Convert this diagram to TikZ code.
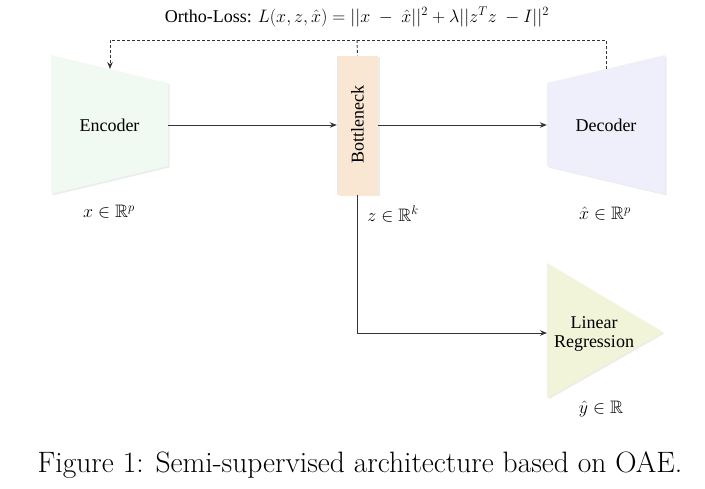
\documentclass[tikz,border=0pt]{standalone}
\usepackage{fix-cm}
\usepackage{amssymb}
\usepackage{fontspec}
\newfontfamily\diafont{Liberation Serif}
\usetikzlibrary{arrows.meta,shadows}

\definecolor{encfill}{HTML}{F0FAF2}
\definecolor{bnfill}{HTML}{F9E7D4}
\definecolor{decfill}{HTML}{EFEFFB}
\definecolor{regfill}{HTML}{F2F4D9}

\begin{document}
\begin{tikzpicture}[x=1pt, y=-1pt, >={Stealth[length=7pt, width=5.5pt]}, line join=round,
  font=\diafont\fontsize{18}{21}\selectfont,
  wire/.style={draw=black!80, line width=0.9pt},
  lossline/.style={wire, densely dashed},
  block/.style={drop shadow={opacity=0.15, shadow xshift=1.5pt, shadow yshift=-1.5pt}}]
  \useasboundingbox (0,0) rectangle (705,488);
  % encoder, narrowing towards the latent code
  \fill[encfill, block] (51,55) -- (168,83) -- (168,166) -- (51,194) -- cycle;
  \node[minimum width=117pt, minimum height=139pt, inner sep=0pt] (enc) at (109.5,125) {Encoder};
  % bottleneck
  \node[fill=bnfill, block, minimum width=41pt, minimum height=139pt, inner sep=0pt] (bn) at (357.5,125) {\rotatebox{90}{Bottleneck}};
  % decoder, widening again
  \fill[decfill, block] (547,83) -- (665,55) -- (665,194) -- (547,166) -- cycle;
  \node[minimum width=118pt, minimum height=139pt, inner sep=0pt] (dec) at (606,125) {Decoder};
  % regression head on the code
  \fill[regfill, block] (547,263) -- (663,332) -- (547,398) -- cycle;
  \node[align=center] (reg) at (594,334) {Linear\\[-2pt]Regression};
  \coordinate (regin) at (547,333);

  % spaces
  \node (xlab) at (109,212) {$x \in \mathbb{R}^p$};
  \node (zlab) at (393,214) {$z \in \mathbb{R}^k$};
  \node (xhlab) at (605,214) {$\hat{x} \in \mathbb{R}^p$};
  \node (ylab) at (601,409) {$\hat{y} \in \mathbb{R}$};

  % forward pass
  \draw[wire, ->] (enc.east) -- (bn.west);
  \draw[wire, ->] (bn.east) -- (dec.west);
  \draw[wire, ->] (bn.south) |- (regin);

  % loss feedback
  \node (loss) at (357,17) {Ortho-Loss: $L(x,z,\hat{x}) = ||x\ -\ \hat{x}||^2 + \lambda||z^Tz\ -I||^2$};
  \coordinate (enctop) at (110,69);
  \coordinate (dectop) at (606,69);
  \coordinate (losstop) at (357,40);
  \draw[lossline, ->] (dectop) |- (losstop) -| (enctop);
  \draw[lossline] (losstop) -- (bn.north);

  % caption
  \node[font=\rmfamily\fontsize{29.5}{33}\selectfont] (cap) at (360,465) {Figure 1: Semi-supervised architecture based on OAE.};
\end{tikzpicture}
\end{document}
